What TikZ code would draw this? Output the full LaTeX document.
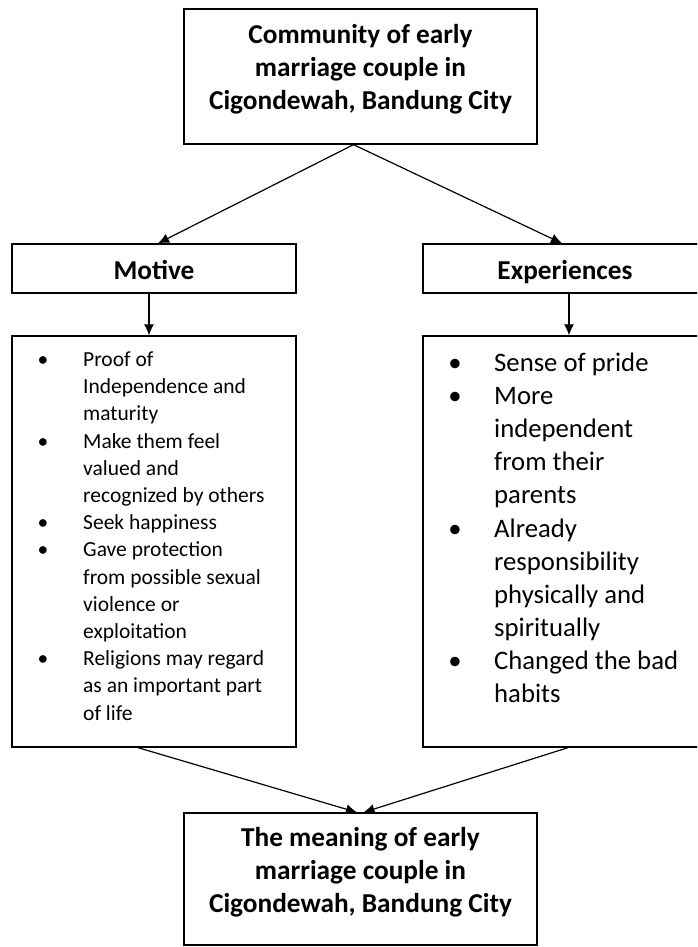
\documentclass[tikz,border=0pt]{standalone}
\usepackage{fontspec}
\setmainfont{Carlito}
\usepackage{tikz}
\usetikzlibrary{positioning}
\usetikzlibrary{arrows.meta,shapes}
\tikzstyle{frame}=[rectangle,draw=black,line width=1.3pt,fill=white,inner sep=0pt]
\tikzstyle{edge} = [draw,line width=1.2pt,-{Latex[length=11pt,width=10pt]}]
\tikzstyle{head} = [font=\fontsize{27.3}{33}\selectfont\bfseries,inner sep=0pt]
\tikzstyle{mtext} = [font=\fontsize{21.5}{27.2}\selectfont,inner sep=0pt,anchor=base west]
\tikzstyle{etext} = [font=\fontsize{26.7}{33.1}\selectfont,inner sep=0pt,anchor=base west]
\tikzstyle{bul} = [inner sep=0pt,anchor=base]

\begin{document}
\begin{tikzpicture}[x=1pt,y=-1pt]

 \useasboundingbox (0,0) rectangle (697,947);
 \clip (0,0) rectangle (697,947);

 %boxes
 \node[frame,minimum width=353pt,minimum height=135pt] (top) at (360.5,76.5) {};
 \node[frame,head,text height=27pt,text depth=6pt,minimum width=284pt,minimum height=49pt] (motive) at (154,268.5) {Motive};
 \node[frame,head,text height=27pt,text depth=6pt,minimum width=284pt,minimum height=49pt] (exper) at (565,268.5) {Experiences};
 \node[frame,minimum width=284pt,minimum height=411pt] (mlist) at (154,541.5) {};
 \node[frame,minimum width=284pt,minimum height=411pt] (elist) at (565,541.5) {};
 \node[frame,minimum width=353pt,minimum height=132pt] (bottom) at (360.5,879) {};

 %titles
 \def\u{33};
 \foreach \n/\label in {0/Community of early, 1/marriage couple in, 2/{Cigondewah, Bandung City}}
        \node[head,anchor=base] (top\n) at (360.5, 44 + \n*\u) {\label};
 \foreach \n/\label in {0/The meaning of early, 1/marriage couple in, 2/{Cigondewah, Bandung City}}
        \node[head,anchor=base] (bot\n) at (360.5, 846.5 + \n*\u) {\label};

 %motive list
 \def\dx{43};
 \def\tx{83};
 \def\dy{366.5};
 \def\u{27.2};
 \foreach \n/\label in {0/Proof of, 1/Independence and, 2/maturity, 3/Make them feel, 4/valued and,
        5/recognized by others, 6/Seek happiness, 7/Gave protection, 8/from possible sexual,
        9/violence or, 10/exploitation, 11/Religions may regard, 12/as an important part, 13/of life}
        \node[mtext] (m\n) at (\tx, \dy + \n*\u) {\label};
 \foreach \n in {0,3,6,7,11}
        \node[bul,font=\fontsize{21.5}{27.2}\selectfont] (mb\n) at (\dx, \dy + \n*\u) {\textbullet};

 %experiences list
 \def\dx{455};
 \def\tx{494};
 \def\dy{371.5};
 \def\u{33.1};
 \foreach \n/\label in {0/Sense of pride, 1/More, 2/independent, 3/from their, 4/parents,
        5/Already, 6/responsibility, 7/physically and, 8/spiritually, 9/Changed the bad, 10/habits}
        \node[etext] (e\n) at (\tx, \dy + \n*\u) {\label};
 \foreach \n in {0,1,5,9}
        \node[bul,font=\fontsize{26.7}{33.1}\selectfont] (eb\n) at (\dx, \dy + \n*\u) {\textbullet};

 %arrows
 \path[edge] ([xshift=-7pt]top.south) -- ([xshift=4pt]motive.north);
 \path[edge] ([xshift=-7pt]top.south) -- ([xshift=-3pt]exper.north);
 \path[edge] ([xshift=-5pt]motive.south) -- ([xshift=-5pt]mlist.north);
 \path[edge] ([xshift=4pt]exper.south) -- ([xshift=4pt]elist.north);
 \path[edge] ([xshift=-16pt]mlist.south) -- ([xshift=-3.5pt]bottom.north);
 \path[edge] ([xshift=3pt]elist.south) -- ([xshift=3pt]bottom.north);

\end{tikzpicture}
\end{document}
